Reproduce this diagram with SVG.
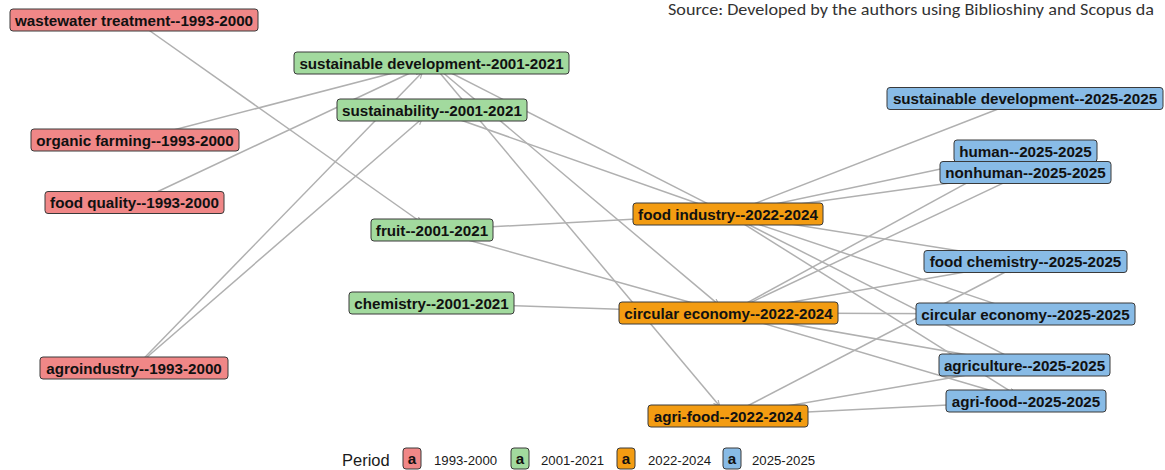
<svg xmlns="http://www.w3.org/2000/svg" width="1165" height="470" viewBox="0 0 1165 470">
<style>
.e{stroke:#b0b0b0;stroke-width:1.5;fill:none;marker-end:url(#arr)}
.box{stroke:#3a3a3a;stroke-width:1}
.p1{fill:#F08787}.p2{fill:#A2DA9E}.p3{fill:#F39C12}.p4{fill:#88BBE6}
.lbl{font-family:"Liberation Sans",Arial,sans-serif;font-weight:bold;font-size:15.2px;fill:#111;text-anchor:middle}
.lg{font-family:"Liberation Sans",Arial,sans-serif;fill:#1a1a1a}
</style>
<defs>
<marker id="arr" markerUnits="userSpaceOnUse" markerWidth="8" markerHeight="8" refX="6" refY="3" orient="auto">
<path d="M0,0 L6,3 L0,6" fill="none" stroke="#b0b0b0" stroke-width="1.2"/>
</marker>
</defs>
<rect width="1165" height="470" fill="#ffffff"/>
<text x="668" y="15" font-family="Carlito,'Liberation Sans',Arial,sans-serif" font-size="15.5" fill="#333" textLength="486" lengthAdjust="spacingAndGlyphs">Source: Developed by the authors using Biblioshiny and Scopus da</text>
<g id="connectors">
<line class="e" x1="134.5" y1="20" x2="421.4" y2="222.5"/>
<line class="e" x1="135" y1="140" x2="418.9" y2="66.3"/>
<line class="e" x1="134.5" y1="202.5" x2="419.7" y2="68.5"/>
<line class="e" x1="134.5" y1="368" x2="422.4" y2="72.3"/>
<line class="e" x1="134.5" y1="368" x2="422.2" y2="118.5"/>
<line class="e" x1="431.5" y1="63" x2="716.4" y2="208.1"/>
<line class="e" x1="431.5" y1="63" x2="718.6" y2="304.6"/>
<line class="e" x1="431.5" y1="63" x2="719.6" y2="406"/>
<line class="e" x1="432" y1="110" x2="715.7" y2="209.7"/>
<line class="e" x1="432" y1="230" x2="715" y2="214.7"/>
<line class="e" x1="432" y1="230" x2="716" y2="309.5"/>
<line class="e" x1="431.5" y1="303" x2="715.5" y2="312.6"/>
<line class="e" x1="728" y1="214" x2="1012.9" y2="103.2"/>
<line class="e" x1="728" y1="214" x2="1012.8" y2="153.7"/>
<line class="e" x1="728" y1="214" x2="1012.6" y2="174.3"/>
<line class="e" x1="728" y1="214" x2="1012.7" y2="259.4"/>
<line class="e" x1="728" y1="214" x2="1013.2" y2="309.9"/>
<line class="e" x1="728" y1="214" x2="1013.4" y2="359.1"/>
<line class="e" x1="728" y1="214" x2="1015" y2="394.1"/>
<line class="e" x1="728.5" y1="313" x2="1014.1" y2="157.2"/>
<line class="e" x1="728.5" y1="313" x2="1013.7" y2="178.1"/>
<line class="e" x1="728.5" y1="313" x2="1012.7" y2="263.7"/>
<line class="e" x1="728.5" y1="313" x2="1012.5" y2="314"/>
<line class="e" x1="728.5" y1="313" x2="1012.2" y2="362.8"/>
<line class="e" x1="728.5" y1="313" x2="1013.5" y2="397.3"/>
<line class="e" x1="728" y1="416" x2="1014" y2="267.5"/>
<line class="e" x1="728" y1="416" x2="1012.2" y2="367.2"/>
<line class="e" x1="728" y1="416" x2="1013" y2="401.7"/>
</g>
<g id="n-wastewater"><rect class="box p1" x="10" y="9" width="248" height="22" rx="3"/><text class="lbl" x="134" y="25.5">wastewater treatment--1993-2000</text></g>
<g id="n-organic"><rect class="box p1" x="31" y="129" width="208" height="22" rx="3"/><text class="lbl" x="135" y="145.5">organic farming--1993-2000</text></g>
<g id="n-foodquality"><rect class="box p1" x="45" y="191.5" width="179" height="22" rx="3"/><text class="lbl" x="134.5" y="208">food quality--1993-2000</text></g>
<g id="n-agroindustry"><rect class="box p1" x="40" y="357" width="188" height="22" rx="3"/><text class="lbl" x="134" y="373.5">agroindustry--1993-2000</text></g>
<g id="n-sd2001"><rect class="box p2" x="294" y="52" width="275" height="22" rx="3"/><text class="lbl" x="431.5" y="68.5">sustainable development--2001-2021</text></g>
<g id="n-sustainability"><rect class="box p2" x="337" y="99" width="190" height="22" rx="3"/><text class="lbl" x="432" y="115.5">sustainability--2001-2021</text></g>
<g id="n-fruit"><rect class="box p2" x="371" y="219" width="122" height="22" rx="3"/><text class="lbl" x="432" y="235.5">fruit--2001-2021</text></g>
<g id="n-chemistry"><rect class="box p2" x="349" y="292" width="165" height="22" rx="3"/><text class="lbl" x="431.5" y="308.5">chemistry--2001-2021</text></g>
<g id="n-foodindustry"><rect class="box p3" x="633" y="203" width="190" height="22" rx="3"/><text class="lbl" x="728" y="219.5">food industry--2022-2024</text></g>
<g id="n-ce2022"><rect class="box p3" x="619" y="302" width="219" height="22" rx="3"/><text class="lbl" x="728.5" y="318.5">circular economy--2022-2024</text></g>
<g id="n-af2022"><rect class="box p3" x="648" y="405" width="160" height="22" rx="3"/><text class="lbl" x="728" y="421.5">agri-food--2022-2024</text></g>
<g id="n-sd2025"><rect class="box p4" x="887" y="87.5" width="276" height="22" rx="3"/><text class="lbl" x="1025" y="104">sustainable development--2025-2025</text></g>
<g id="n-human"><rect class="box p4" x="954" y="140" width="143" height="22" rx="3"/><text class="lbl" x="1025.5" y="156.5">human--2025-2025</text></g>
<g id="n-nonhuman"><rect class="box p4" x="940" y="161.5" width="171" height="22" rx="3"/><text class="lbl" x="1025.5" y="178">nonhuman--2025-2025</text></g>
<g id="n-foodchem"><rect class="box p4" x="924" y="250.5" width="203" height="22" rx="3"/><text class="lbl" x="1025.5" y="267">food chemistry--2025-2025</text></g>
<g id="n-ce2025"><rect class="box p4" x="916" y="303" width="219" height="22" rx="3"/><text class="lbl" x="1025.5" y="319.5">circular economy--2025-2025</text></g>
<g id="n-agriculture"><rect class="box p4" x="939" y="354" width="171" height="22" rx="3"/><text class="lbl" x="1024.5" y="370.5">agriculture--2025-2025</text></g>
<g id="n-af2025"><rect class="box p4" x="946" y="390" width="160" height="22" rx="3"/><text class="lbl" x="1026" y="406.5">agri-food--2025-2025</text></g>
<g id="legend">
<text class="lg" x="342" y="466" font-size="16.5">Period</text>
<rect class="box p1" x="403" y="448" width="18" height="21" rx="3"/><text class="lbl" x="412" y="463.5" font-size="13">a</text>
<text class="lg" x="434" y="464.5" font-size="13.2">1993-2000</text>
<rect class="box p2" x="511" y="448" width="18" height="21" rx="3"/><text class="lbl" x="520" y="463.5" font-size="13">a</text>
<text class="lg" x="541" y="464.5" font-size="13.2">2001-2021</text>
<rect class="box p3" x="617" y="448" width="18" height="21" rx="3"/><text class="lbl" x="626" y="463.5" font-size="13">a</text>
<text class="lg" x="648" y="464.5" font-size="13.2">2022-2024</text>
<rect class="box p4" x="723" y="448" width="18" height="21" rx="3"/><text class="lbl" x="732" y="463.5" font-size="13">a</text>
<text class="lg" x="752" y="464.5" font-size="13.2">2025-2025</text>
</g>
</svg>
